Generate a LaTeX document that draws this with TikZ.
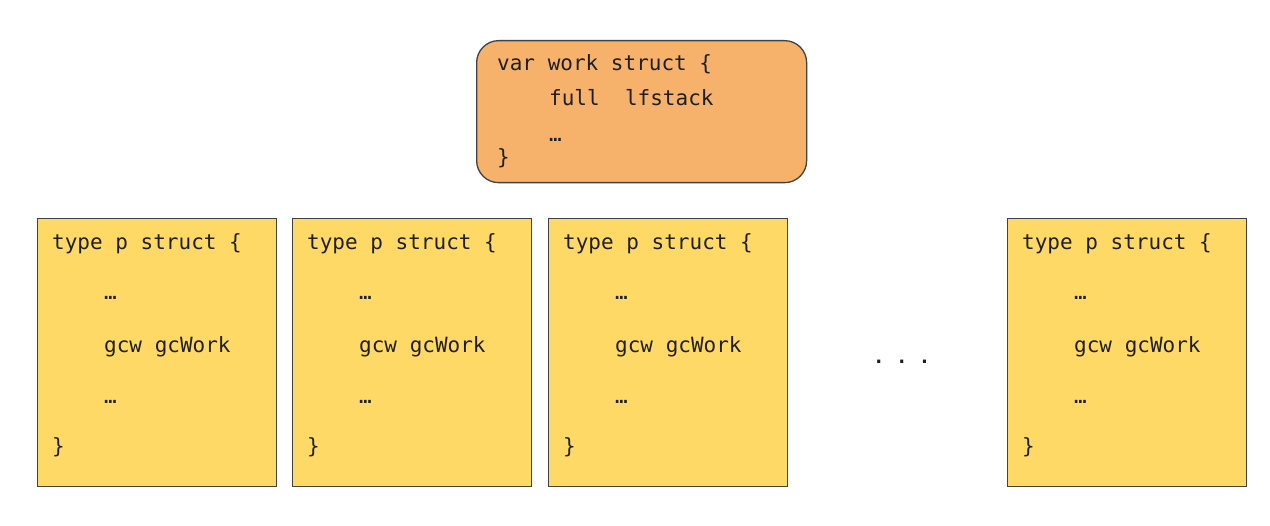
\documentclass[tikz,border=0pt]{standalone}
\usepackage{fontspec}
\setmonofont{DejaVu Sans Mono}
\usetikzlibrary{positioning}
\definecolor{workorange}{HTML}{F6B26B}
\definecolor{pyellow}{HTML}{FFD966}
\definecolor{boxline}{HTML}{424242}
\tikzset{
  pbox/.style = {draw=boxline,fill=pyellow,line width=1.3pt,minimum width=239pt,minimum height=268pt,inner sep=0pt,anchor=north west},
  workbox/.style = {draw=boxline,fill=workorange,line width=1.3pt,rounded corners=22pt,minimum width=330pt,minimum height=142pt,inner sep=0pt,anchor=north west},
  code/.style = {font=\ttfamily\fontsize{21}{25}\selectfont,inner sep=0pt,anchor=base west,text=black!88}
}

\begin{document}
\begin{tikzpicture}[x=1pt,y=-1pt]
  \useasboundingbox (0,0) rectangle (1270,526);
  % the shared work struct
  \node[workbox] (work) at (476,40) {};
  \node[code] (work head) at (497,71) {var work struct \{};
  \node[code] (work full) at (549,106) {full\ \ lfstack};
  \node[code] (work more) at (549,142) {…};
  \node[code] (work end) at (497,165) {\}};
  % one p struct per P
  \foreach \x/\n in {37/1,292/2,548/3,1007/4}{
    \node[pbox] (p\n) at (\x,218) {};
    \node[code] (p\n head) at (\x+15,250) {type p struct \{};
    \node[code] (p\n top) at (\x+67,300) {…};
    \node[code] (p\n gcw) at (\x+67,353) {gcw gcWork};
    \node[code] (p\n bot) at (\x+67,404) {…};
    \node[code] (p\n end) at (\x+15,454) {\}};
  }
  \node[code,font=\ttfamily\bfseries\fontsize{19}{23}\selectfont] (dots) at (873,364) {. . .};
\end{tikzpicture}
\end{document}
